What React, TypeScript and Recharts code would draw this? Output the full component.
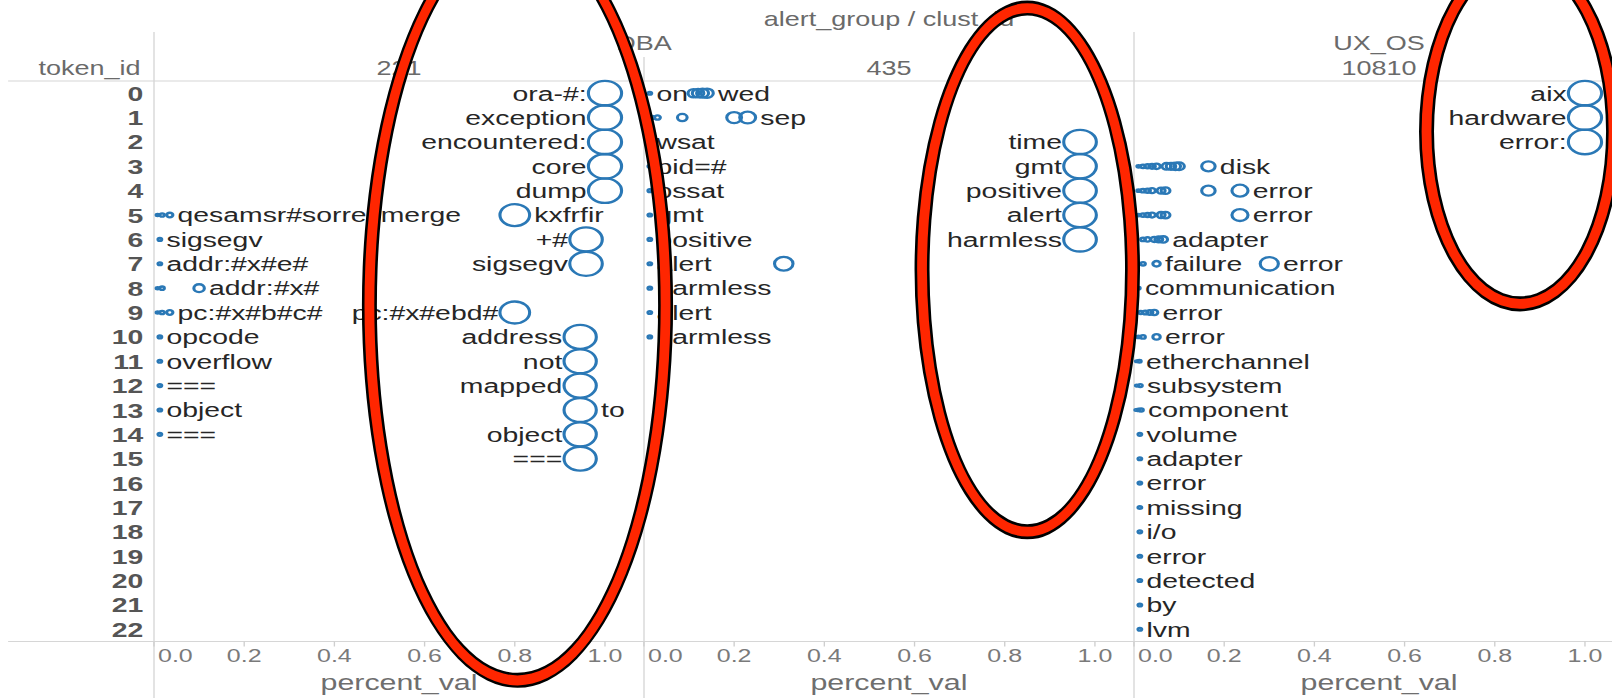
import React from 'react';
import { ScatterChart, Scatter, XAxis, YAxis, ZAxis, ReferenceArea } from 'recharts';

type Pt = { row: number; val: number; label?: string };

// token_id rows and percent_val ticks
const tokenIds = [0, 1, 2, 3, 4, 5, 6, 7, 8, 9, 10, 11, 12, 13, 14, 15, 16, 17, 18, 19, 20, 21, 22];
const xTicks = [0, 0.2, 0.4, 0.6, 0.8, 1.0];

const clust221: Pt[] = [
  { row: 0, val: 1.0, label: 'ora-#:' },
  { row: 1, val: 1.0, label: 'exception' },
  { row: 2, val: 1.0, label: 'encountered:' },
  { row: 3, val: 1.0, label: 'core' },
  { row: 4, val: 1.0, label: 'dump' },
  { row: 5, val: 0.008 }, { row: 5, val: 0.018 }, { row: 5, val: 0.035, label: 'qesamsr#sorrecmerge' }, { row: 5, val: 0.8, label: 'kxfrfir' },
  { row: 6, val: 0.013, label: 'sigsegv' }, { row: 6, val: 0.958, label: '+#' },
  { row: 7, val: 0.013, label: 'addr:#x#e#' }, { row: 7, val: 0.958, label: 'sigsegv' },
  { row: 8, val: 0.008 }, { row: 8, val: 0.018 }, { row: 8, val: 0.1, label: 'addr:#x#' },
  { row: 9, val: 0.008 }, { row: 9, val: 0.018 }, { row: 9, val: 0.035, label: 'pc:#x#b#c#' }, { row: 9, val: 0.8, label: 'pc:#x#ebd#' },
  { row: 10, val: 0.013, label: 'opcode' }, { row: 10, val: 0.945, label: 'address' },
  { row: 11, val: 0.013, label: 'overflow' }, { row: 11, val: 0.945, label: 'not' },
  { row: 12, val: 0.013, label: '===' }, { row: 12, val: 0.945, label: 'mapped' },
  { row: 13, val: 0.013, label: 'object' }, { row: 13, val: 0.945, label: 'to' },
  { row: 14, val: 0.013, label: '===' }, { row: 14, val: 0.945, label: 'object' },
  { row: 15, val: 0.945, label: '===' },
];

const clust435: Pt[] = [
  { row: 0, val: 0.013, label: 'on' }, { row: 0, val: 0.11 }, { row: 0, val: 0.12 }, { row: 0, val: 0.13 }, { row: 0, val: 0.14, label: 'wed' },
  { row: 1, val: 0.008 }, { row: 1, val: 0.018 }, { row: 1, val: 0.03 }, { row: 1, val: 0.085 }, { row: 1, val: 0.2 }, { row: 1, val: 0.23, label: 'sep' },
  { row: 2, val: 0.013, label: 'wsat' }, { row: 2, val: 0.967, label: 'time' },
  { row: 3, val: 0.013, label: 'pid=#' }, { row: 3, val: 0.967, label: 'gmt' },
  { row: 4, val: 0.013, label: 'ossat' }, { row: 4, val: 0.967, label: 'positive' },
  { row: 5, val: 0.013, label: 'gmt' }, { row: 5, val: 0.967, label: 'alert' },
  { row: 6, val: 0.013, label: 'positive' }, { row: 6, val: 0.967, label: 'harmless' },
  { row: 7, val: 0.013, label: 'alert' }, { row: 7, val: 0.31 },
  { row: 8, val: 0.013, label: 'harmless' },
  { row: 9, val: 0.013, label: 'alert' },
  { row: 10, val: 0.013, label: 'harmless' },
];

const clust10810: Pt[] = [
  { row: 0, val: 1.0, label: 'aix' },
  { row: 1, val: 1.0, label: 'hardware' },
  { row: 2, val: 1.0, label: 'error:' },
  { row: 3, val: 0.01 }, { row: 3, val: 0.02 }, { row: 3, val: 0.03 }, { row: 3, val: 0.04 }, { row: 3, val: 0.05 },
  { row: 3, val: 0.072 }, { row: 3, val: 0.082 }, { row: 3, val: 0.092 }, { row: 3, val: 0.1 }, { row: 3, val: 0.165, label: 'disk' },
  { row: 4, val: 0.01 }, { row: 4, val: 0.02 }, { row: 4, val: 0.03 }, { row: 4, val: 0.04 }, { row: 4, val: 0.06 }, { row: 4, val: 0.07 },
  { row: 4, val: 0.165 }, { row: 4, val: 0.235, label: 'error' },
  { row: 5, val: 0.01 }, { row: 5, val: 0.02 }, { row: 5, val: 0.03 }, { row: 5, val: 0.04 }, { row: 5, val: 0.06 }, { row: 5, val: 0.07 },
  { row: 5, val: 0.235, label: 'error' },
  { row: 6, val: 0.02 }, { row: 6, val: 0.03 }, { row: 6, val: 0.045 }, { row: 6, val: 0.055 }, { row: 6, val: 0.065, label: 'adapter' },
  { row: 7, val: 0.02 }, { row: 7, val: 0.05, label: 'failure' }, { row: 7, val: 0.3, label: 'error' },
  { row: 8, val: 0.01, label: 'communication' },
  { row: 9, val: 0.015 }, { row: 9, val: 0.025 }, { row: 9, val: 0.035 }, { row: 9, val: 0.045, label: 'error' },
  { row: 10, val: 0.01 }, { row: 10, val: 0.02 }, { row: 10, val: 0.05, label: 'error' },
  { row: 11, val: 0.006 }, { row: 11, val: 0.012, label: 'etherchannel' },
  { row: 12, val: 0.006 }, { row: 12, val: 0.014, label: 'subsystem' },
  { row: 13, val: 0.004 }, { row: 13, val: 0.01 }, { row: 13, val: 0.016, label: 'component' },
  { row: 14, val: 0.013, label: 'volume' },
  { row: 15, val: 0.013, label: 'adapter' },
  { row: 16, val: 0.013, label: 'error' },
  { row: 17, val: 0.013, label: 'missing' },
  { row: 18, val: 0.013, label: 'i/o' },
  { row: 19, val: 0.013, label: 'error' },
  { row: 20, val: 0.013, label: 'detected' },
  { row: 21, val: 0.013, label: 'by' },
  { row: 22, val: 0.013, label: 'lvm' },
];

// labels that sit to the right of a large mark
const rightLabelled = ['221:5', '221:13'];

// red hand-drawn highlights, in percent_val / token_id units of each pane
const highlights = [
  { clust: '221', v1: 0.461, v2: 1.151, r1: -7.0, r2: 24.4 },
  { clust: '435', v1: 0.6, v2: 1.1, r1: -3.8, r2: 18.3 },
  { clust: '10810', v1: 0.632, v2: 1.08, r1: -5.8, r2: 8.95 },
];

const S = 1.35; // the picture is stretched sideways
const W = 1612;
const H = 698;
const IW = W / S;
const ROW_W = 154 / S;
const PANE_W = 490 / S;
const TOP = 81;
const AXIS_Y = 641.5;
const XMAX = 1.0865;
const R1 = 12.3;
const FONT = '"Liberation Sans", Arial, sans-serif';
const BLUE = '#2a78b6';
const LINE = '#d6d6d6';

function ellipsePath(cx: number, cy: number, rx: number, ry: number) {
  return `M${cx - rx},${cy}a${rx},${ry} 0 1,0 ${2 * rx},0a${rx},${ry} 0 1,0 ${-2 * rx},0Z`;
}

function Ring(props: any) {
  const { x, y, width, height } = props;
  const cx = x + width / 2;
  const cy = y + height / 2;
  const rx = Math.abs(width) / 2;
  const ry = Math.abs(height) / 2;
  const band = (a: number, b: number) =>
    ellipsePath(cx, cy, rx - a / S, ry - a) + ellipsePath(cx, cy, rx - b / S, ry - b);
  return (
    <g>
      <path d={band(0, 15)} fill="#000" fillRule="evenodd" />
      <path d={band(2.6, 12.4)} fill="#ff2600" fillRule="evenodd" />
    </g>
  );
}

function Mark(props: any) {
  const { cx, cy, width, payload, clust } = props;
  const p = payload as Pt;
  const r = (width || 0) / 2;
  const onLeft = p.val >= 0.5 && !rightLabelled.includes(`${clust}:${p.row}`);
  return (
    <g>
      <circle cx={cx} cy={cy} r={r} fill="none" stroke={BLUE} strokeWidth={2.3} />
      {p.label ? (
        <text
          x={onLeft ? cx - r - 1.3 : cx + r + 3.5}
          y={cy}
          dy="0.35em"
          textAnchor={onLeft ? 'end' : 'start'}
          fontSize={21}
          fontFamily={FONT}
          fill="#262626"
        >
          {p.label}
        </text>
      ) : null}
    </g>
  );
}

function XTick(props: any) {
  const { x, y, payload } = props;
  const first = payload.value === 0;
  return (
    <text
      x={first ? x + 3 : x}
      y={y}
      dy="0.71em"
      textAnchor={first ? 'start' : 'middle'}
      fontSize={18.5}
      fontFamily={FONT}
      fill="#7a7a7a"
    >
      {Number(payload.value).toFixed(1)}
    </text>
  );
}

function RowTick(props: any) {
  const { x, y, payload } = props;
  return (
    <text x={x} y={y} dy="0.36em" textAnchor="end" fontSize={21} fontWeight="bold" fontFamily={FONT} fill="#555">
      {payload.value}
    </text>
  );
}

function Pane({ clust, data, left, showRows }: { clust: string; data: Pt[]; left: number; showRows: boolean }) {
  const hl = highlights.find((h) => h.clust === clust);
  return (
    <div style={{ position: 'absolute', left, top: 0 }}>
      <ScatterChart
        width={PANE_W + (showRows ? ROW_W : 0)}
        height={H}
        margin={{ top: TOP, right: 0, bottom: 0, left: 0 }}
      >
        <XAxis
          type="number"
          dataKey="val"
          domain={[0, XMAX]}
          ticks={xTicks}
          interval={0}
          height={H - AXIS_Y}
          axisLine={false}
          tickLine={{ stroke: '#cfcfcf' }}
          tickSize={5}
          tickMargin={2}
          tick={(p: any) => <XTick {...p} />}
          label={{ value: 'percent_val', position: 'insideBottom', offset: 8, fill: '#6e6e6e', fontSize: 22.5, fontFamily: FONT }}
        />
        <YAxis
          type="number"
          dataKey="row"
          domain={[-0.5, 22.5]}
          reversed
          ticks={tokenIds}
          interval={0}
          hide={!showRows}
          width={ROW_W}
          axisLine={false}
          tickLine={false}
          tickSize={0}
          tickMargin={8}
          tick={(p: any) => <RowTick {...p} />}
        />
        <ZAxis type="number" dataKey="val" domain={[0, 1]} range={[0, Math.PI * R1 * R1]} />
        <Scatter data={data} isAnimationActive={false} shape={(p: any) => <Mark {...p} clust={clust} />} />
        {hl ? (
          <ReferenceArea
            x1={hl.v1}
            x2={hl.v2}
            y1={hl.r1}
            y2={hl.r2}
            ifOverflow="visible"
            zIndex={2500}
            shape={(p: any) => <Ring {...p} />}
          />
        ) : null}
      </ScatterChart>
    </div>
  );
}

export default function App() {
  const p1 = ROW_W;
  const p2 = ROW_W + PANE_W;
  const p3 = ROW_W + 2 * PANE_W;
  const txt = { fontFamily: FONT, fontSize: 20, fill: '#6a6a6a' };
  return (
    <div style={{ position: 'absolute', left: 0, top: 0, width: W, height: H, overflow: 'hidden', background: '#fff' }}>
      <style>{'.recharts-surface{overflow:visible}'}</style>
      <div style={{ position: 'absolute', left: 0, top: 0, width: IW, height: H, transform: `scaleX(${S})`, transformOrigin: '0 0' }}>
        <svg width={IW} height={H} style={{ position: 'absolute', left: 0, top: 0 }}>
          <line x1={6} x2={IW + 40} y1={TOP} y2={TOP} stroke={LINE} />
          <line x1={6} x2={IW + 40} y1={AXIS_Y} y2={AXIS_Y} stroke={LINE} />
          <line x1={p1} x2={p1} y1={32} y2={H} stroke={LINE} />
          <line x1={p2} x2={p2} y1={57} y2={H} stroke={LINE} />
          <line x1={p3} x2={p3} y1={32} y2={H} stroke={LINE} />
          <text {...txt} x={(p1 + p3 + PANE_W) / 2} y={19} dy="0.35em" textAnchor="middle">
            alert_group  /  clust_id
          </text>
          <text {...txt} x={(p1 + p3) / 2} y={43} dy="0.35em" textAnchor="middle">DBA</text>
          <text {...txt} x={p3 + PANE_W / 2} y={43} dy="0.35em" textAnchor="middle">UX_OS</text>
          <text {...txt} x={p1 - 10} y={68} dy="0.35em" textAnchor="end">token_id</text>
          <text {...txt} x={p1 + PANE_W / 2} y={68} dy="0.35em" textAnchor="middle">221</text>
          <text {...txt} x={p2 + PANE_W / 2} y={68} dy="0.35em" textAnchor="middle">435</text>
          <text {...txt} x={p3 + PANE_W / 2} y={68} dy="0.35em" textAnchor="middle">10810</text>
        </svg>
        {/* later panes first, so the 221 highlight can spill over the 435 pane */}
        <Pane clust="10810" data={clust10810} left={p3} showRows={false} />
        <Pane clust="435" data={clust435} left={p2} showRows={false} />
        <Pane clust="221" data={clust221} left={0} showRows />
      </div>
    </div>
  );
}
